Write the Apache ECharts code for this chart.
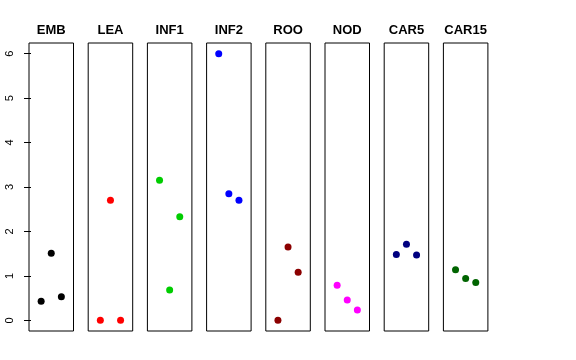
<!DOCTYPE html>
<html><head><meta charset="utf-8">
<script src="https://cdn.jsdelivr.net/npm/echarts@6/dist/echarts.min.js"></script>
<style>html,body{margin:0;padding:0;background:#fff}#c{width:576px;height:360px}</style>
</head><body><div id="c"></div>
<script>
const categories = ["EMB","LEA","INF1","INF2","ROO","NOD","CAR5","CAR15"];
const xPositions = [1, 2, 3];
const EMB = [0.43, 1.51, 0.53];
const LEA = [0.0, 2.70, 0.0];
const INF1 = [3.15, 0.68, 2.33];
const INF2 = [6.0, 2.85, 2.70];
const ROO = [0.0, 1.65, 1.08];
const NOD = [0.79, 0.46, 0.23];
const CAR5 = [1.48, 1.71, 1.47];
const CAR15 = [1.14, 0.94, 0.85];
const yTicks = [0, 1, 2, 3, 4, 5, 6];
const seriesValues = [EMB, LEA, INF1, INF2, ROO, NOD, CAR5, CAR15];
const colors = ["#000000","#FF0000","#00CD00","#0000FF","#8B0000","#FF00FF","#000080","#006400"];

(function(){
const chart = echarts.init(document.getElementById('c'), null, {renderer:'canvas'});
const grids = [], xAxes = [], yAxes = [], series = [];
const left0 = 29, step = 59.2, w = 44.5, gTop = 43, gH = 288;
const font = 'Liberation Sans, Arial, sans-serif';
categories.forEach((cat, i) => {
  const l = left0 + step * i;
  grids.push({left: l, top: gTop, width: w, height: gH, show: true, borderColor: '#000', borderWidth: 1, backgroundColor: 'transparent'});
  xAxes.push({
    type: 'value', gridIndex: i, min: -0.2, max: 4.2, position: 'top',
    axisLine: {show: false}, axisTick: {show: false}, axisLabel: {show: false}, splitLine: {show: false},
    name: cat, nameLocation: 'middle', nameGap: 6,
    nameTextStyle: {fontSize: 13, fontWeight: 'bold', color: '#000', fontFamily: font}
  });
  yAxes.push({
    type: 'value', gridIndex: i, min: -0.24, max: 6.24,
    show: i === 0,
    axisLine: {show: false},
    splitLine: {show: false},
    axisTick: {show: true, length: 7, lineStyle: {color: '#000'}, customValues: yTicks},
    axisLabel: {show: true, rotate: 90, margin: 14, fontSize: 11, color: '#000', fontFamily: font, customValues: yTicks}
  });
  series.push({
    type: 'scatter', xAxisIndex: i, yAxisIndex: i,
    data: xPositions.map((x, j) => [x, seriesValues[i][j]]),
    symbolSize: 7, itemStyle: {color: colors[i], opacity: 1}, silent: true
  });
});
chart.setOption({animation: false, grid: grids, xAxis: xAxes, yAxis: yAxes, series: series});
})();
</script></body></html>
